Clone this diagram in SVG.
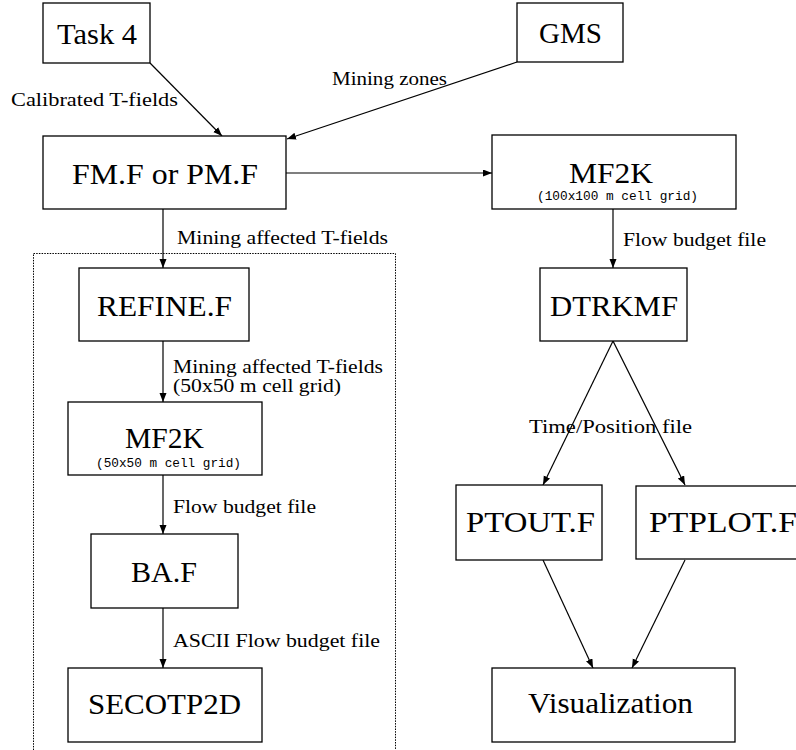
<svg xmlns="http://www.w3.org/2000/svg" width="796" height="750" viewBox="0 0 796 750">
<defs>
<marker id="arr" markerUnits="userSpaceOnUse" markerWidth="10" markerHeight="8" refX="9" refY="3.5" orient="auto">
<path d="M0,0 L9,3.5 L0,7 Z" fill="#000"/>
</marker>
<style>
.box{fill:#fff;stroke:#000;stroke-width:1.3}
.big{font-family:"Liberation Serif",serif;font-size:29px;fill:#000}
.lbl{font-family:"Liberation Serif",serif;font-size:18px;fill:#000}
.tt{font-family:"Liberation Mono",monospace;font-size:13px;fill:#000}
.edge{stroke:#000;stroke-width:1.2;fill:none;marker-end:url(#arr)}
.dot{fill:none;stroke:#000;stroke-width:1;stroke-dasharray:1.5 1.2}
</style>
</defs>
<rect x="0" y="0" width="796" height="750" fill="#fff"/>
<rect class="dot" x="33.5" y="253.5" width="362" height="510"/>
<g id="connectors">
<line class="edge" x1="150" y1="63" x2="222" y2="136"/>
<line class="edge" x1="517" y1="62" x2="287" y2="139"/>
<line class="edge" x1="286" y1="173" x2="492" y2="173"/>
<line class="edge" x1="163" y1="209" x2="163" y2="268"/>
<line class="edge" x1="163" y1="341" x2="163" y2="402"/>
<line class="edge" x1="163" y1="475" x2="163" y2="534"/>
<line class="edge" x1="163" y1="608" x2="163" y2="668"/>
<line class="edge" x1="613" y1="209" x2="613" y2="268"/>
<line class="edge" x1="613" y1="341" x2="543" y2="485"/>
<line class="edge" x1="613" y1="341" x2="685" y2="485"/>
<line class="edge" x1="543" y1="560" x2="593" y2="668"/>
<line class="edge" x1="685" y1="560" x2="632" y2="668"/>
<text class="lbl" x="11" y="106" textLength="167" lengthAdjust="spacingAndGlyphs">Calibrated T-fields</text>
<text class="lbl" x="332" y="85" textLength="115" lengthAdjust="spacingAndGlyphs">Mining zones</text>
<text class="lbl" x="177" y="244" textLength="211" lengthAdjust="spacingAndGlyphs">Mining affected T-fields</text>
<text class="lbl" x="173" y="373" textLength="210" lengthAdjust="spacingAndGlyphs">Mining affected T-fields</text>
<text class="lbl" x="173" y="392" textLength="168" lengthAdjust="spacingAndGlyphs">(50x50 m cell grid)</text>
<text class="lbl" x="173" y="513" textLength="143" lengthAdjust="spacingAndGlyphs">Flow budget file</text>
<text class="lbl" x="173" y="647" textLength="207" lengthAdjust="spacingAndGlyphs">ASCII Flow budget file</text>
<text class="lbl" x="623" y="246" textLength="143" lengthAdjust="spacingAndGlyphs">Flow budget file</text>
<text class="lbl" x="529" y="433" textLength="163" lengthAdjust="spacingAndGlyphs">Time/Position file</text>
</g>
<g id="task4">
<rect class="box" x="43" y="3" width="107" height="60"/>
<text class="big" x="57" y="44" textLength="80" lengthAdjust="spacingAndGlyphs">Task 4</text>
</g>
<g id="gms">
<rect class="box" x="517" y="3" width="106" height="59"/>
<text class="big" x="539" y="43" textLength="63" lengthAdjust="spacingAndGlyphs">GMS</text>
</g>
<g id="fmpm">
<rect class="box" x="43" y="136" width="243" height="73"/>
<text class="big" x="72" y="184" textLength="186" lengthAdjust="spacingAndGlyphs">FM.F or PM.F</text>
</g>
<g id="mf2k100">
<rect class="box" x="492" y="135" width="244" height="74"/>
<text class="big" x="569" y="183" textLength="84" lengthAdjust="spacingAndGlyphs">MF2K</text>
<text class="tt" x="537" y="200" textLength="161" lengthAdjust="spacingAndGlyphs">(100x100 m cell grid)</text>
</g>
<g id="refine">
<rect class="box" x="79" y="268" width="170" height="73"/>
<text class="big" x="97" y="316" textLength="135" lengthAdjust="spacingAndGlyphs">REFINE.F</text>
</g>
<g id="mf2k50">
<rect class="box" x="68" y="402" width="194" height="73"/>
<text class="big" x="125" y="448" textLength="79" lengthAdjust="spacingAndGlyphs">MF2K</text>
<text class="tt" x="96" y="467" textLength="145" lengthAdjust="spacingAndGlyphs">(50x50 m cell grid)</text>
</g>
<g id="baf">
<rect class="box" x="91" y="534" width="147" height="74"/>
<text class="big" x="131" y="582" textLength="66" lengthAdjust="spacingAndGlyphs">BA.F</text>
</g>
<g id="secotp2d">
<rect class="box" x="68" y="668" width="194" height="74"/>
<text class="big" x="88" y="714" textLength="153" lengthAdjust="spacingAndGlyphs">SECOTP2D</text>
</g>
<g id="dtrkmf">
<rect class="box" x="540" y="268" width="147" height="73"/>
<text class="big" x="550" y="316" textLength="128" lengthAdjust="spacingAndGlyphs">DTRKMF</text>
</g>
<g id="ptout">
<rect class="box" x="456" y="485" width="146" height="75"/>
<text class="big" x="466" y="532" textLength="129" lengthAdjust="spacingAndGlyphs">PTOUT.F</text>
</g>
<g id="ptplot">
<rect class="box" x="636" y="486" width="170" height="73"/>
<text class="big" x="649" y="532" textLength="148" lengthAdjust="spacingAndGlyphs">PTPLOT.F</text>
</g>
<g id="visualization">
<rect class="box" x="492" y="668" width="243" height="74"/>
<text class="big" x="528" y="713" textLength="165" lengthAdjust="spacingAndGlyphs">Visualization</text>
</g>
</svg>
